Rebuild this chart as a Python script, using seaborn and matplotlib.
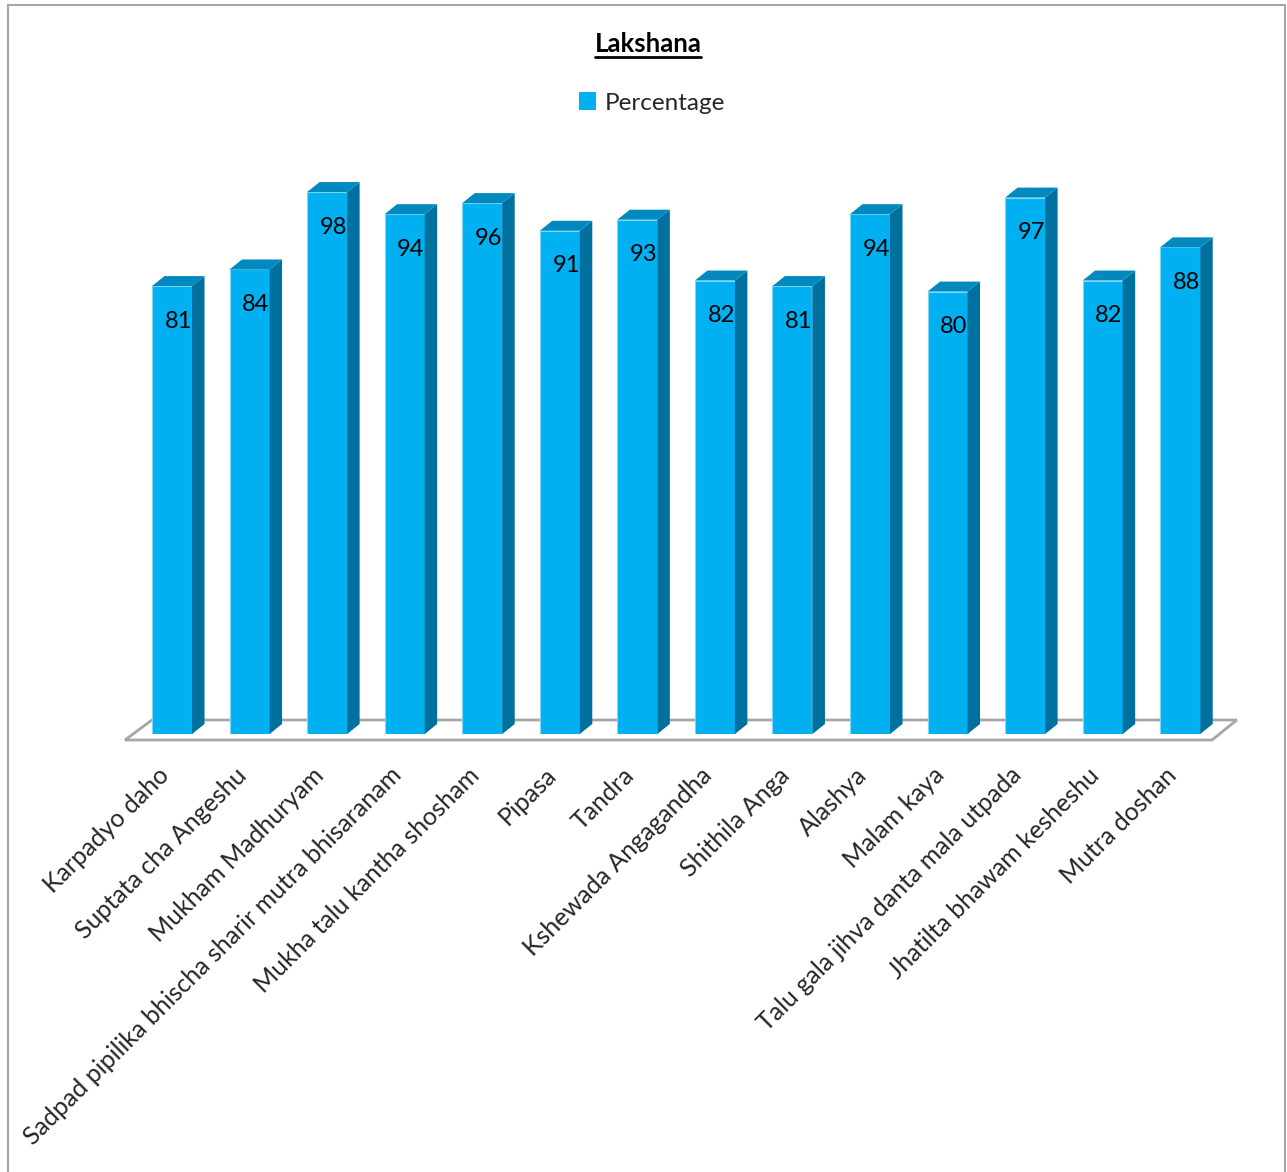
import matplotlib
matplotlib.use("Agg")
import matplotlib.pyplot as plt
import seaborn as sns
import pandas as pd
import numpy as np
from matplotlib.patches import Polygon, Rectangle
from matplotlib.lines import Line2D

categories = ["Karpadyo daho", "Suptata cha Angeshu", "Mukham Madhuryam",
              "Sadpad pipilika bhischa sharir mutra bhisaranam",
              "Mukha talu kantha shosham", "Pipasa", "Tandra",
              "Kshewada Angagandha", "Shithila Anga", "Alashya", "Malam kaya",
              "Talu gala jihva danta mala utpada", "Jhatilta bhawam kesheshu",
              "Mutra doshan"]
values = [81, 84, 98, 94, 96, 91, 93, 82, 81, 94, 80, 97, 82, 88]
series_name = "Percentage"
title_text = "Lakshana"

df = pd.DataFrame({"cat": categories, "val": values})

sns.set_theme(style="white")
plt.rcParams["font.family"] = ["Lato", "DejaVu Sans"]

W, H = 1287, 1172
fig = plt.figure(figsize=(W / 100, H / 100), dpi=100)
fig.patch.set_facecolor("white")

# axes placement (pixels from reference)
x_left_px, x_right_px = 125, 1212
y0_px, ppu = 734, 5.53
ax = fig.add_axes([x_left_px / W, (H - y0_px) / H,
                   (x_right_px - x_left_px) / W, 100 * ppu / H])

front = "#00b0f0"
side = "#00709e"
topc = "#0089bf"

sns.barplot(data=df, x="cat", y="val", color=front, width=0.516,
            saturation=1, ax=ax, edgecolor="#7fd6f7", linewidth=0.8,
            zorder=3)
ax.set_xlim(-0.606, 13.41)
ax.set_ylim(0, 100)

dx = 12.5 / 77.55
dy = 10 / ppu

for p in ax.patches:
    x0 = p.get_x()
    w = p.get_width()
    h = p.get_height()
    x1 = x0 + w
    ax.add_patch(Polygon([[x1, 0], [x1 + dx, dy], [x1 + dx, h + dy], [x1, h]],
                         closed=True, facecolor=side, edgecolor="none",
                         zorder=3, clip_on=False))
    ax.add_patch(Polygon([[x0, h], [x0 + dx, h + dy], [x1 + dx, h + dy], [x1, h]],
                         closed=True, facecolor=topc, edgecolor="none",
                         zorder=3, clip_on=False))
    ax.text(x0 + w / 2 + dx * 0.5, h - 35 / ppu, f"{int(round(h))}",
            ha="center", va="center", fontsize=17, color="black", zorder=5)

# floor outline
fy_front = -6 / ppu
fy_back = 14 / ppu
floor = Polygon([[-0.606, fy_front], [-0.258, fy_back], [13.73, fy_back],
                 [13.41, fy_front]], closed=True, facecolor="none",
                edgecolor="#a6a6a6", linewidth=2, zorder=1, clip_on=False)
ax.add_patch(floor)

for s in ax.spines.values():
    s.set_visible(False)
ax.set_yticks([])
ax.set_xlabel("")
ax.set_ylabel("")
ax.tick_params(axis="x", length=0, pad=27)
ax.set_xticks(np.arange(len(categories)) - 0.09)
ax.set_xticklabels(categories, rotation=45, ha="right", va="center",
                   rotation_mode="anchor", fontsize=18)
ax.set_facecolor("none")

# legend
handle = Rectangle((0, 0), 1, 1, facecolor=front, edgecolor="none")
fig.legend([handle], [series_name], loc="center",
           bbox_to_anchor=(652 / W, 1 - 103 / H), frameon=False,
           fontsize=17.5, handlelength=0.7, handleheight=0.7,
           handletextpad=0.35)

# title with underline
t = fig.text(648 / W, 1 - 44 / H, title_text, ha="center", va="center",
             fontsize=18.5, fontweight="bold", color="black")
fig.canvas.draw()
bb = t.get_window_extent()
uy = (bb.y0 - 1) / H
fig.add_artist(Line2D([bb.x0 / W, bb.x1 / W], [uy, uy],
                      transform=fig.transFigure, color="black", linewidth=2))

# chart border
fig.add_artist(Rectangle((8 / W, -0.02), (1285 - 8) / W, 1 - 5 / H + 0.02,
                         transform=fig.transFigure, facecolor="none",
                         edgecolor="#a6a6a6", linewidth=1.5))

fig.savefig("out.png", dpi=100)
